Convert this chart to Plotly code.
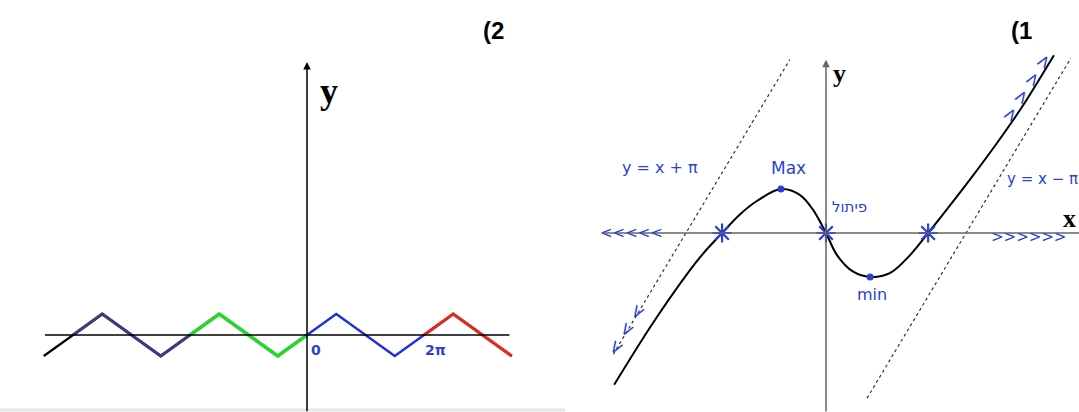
import plotly.graph_objects as go

W, H = 1079, 412

# ---- panel (2): triangle wave, x and y in multiples of pi ----
wave_x = [-4.5, -4, -3.5, -3, -2.5, -2, -1.5, -1, -0.5, 0, 0.5, 1, 1.5, 2, 2.5, 3, 3.5]
wave_y = [-0.5, 0, 0.5, 0, -0.5, 0, 0.5, 0, -0.5, 0, 0.5, 0, -0.5, 0, 0.5, 0, -0.5]
section_start = [-4, -2, 0, 2]
section_end = [-2, 0, 2, 3.5]
section_color = ["#3d3b80", "#2bd42b", "#1f2fe0", "#e0281e"]
section_width = [3.2, 3.6, 2.4, 3.2]

# ---- panel (1): sketched curve with slant asymptotes ----
curve_x = [-4.75, -3.88, -3.05, -2.76, -2.33, -1.93, -1.55, -1.01, -0.58, -0.29, 0.0,
           0.25, 0.61, 0.99, 1.43, 1.88, 2.29, 2.78, 3.23, 3.81, 4.39, 5.11]
curve_y = [-2.04, -1.21, -0.50, -0.28, 0.0, 0.25, 0.43, 0.59, 0.51, 0.31, 0.0,
           -0.30, -0.52, -0.59, -0.54, -0.30, 0.0, 0.37, 0.72, 1.19, 1.69, 2.39]
asym_plus_x = [-4.77, -0.81]
asym_plus_y = [-1.63, 2.33]
asym_minus_x = [0.92, 5.49]
asym_minus_y = [-2.22, 2.35]
zeros_x = [-2.33, 0.0, 2.29]
max_pt = (-1.01, 0.59)
min_pt = (0.99, -0.59)

INK = "#2b3fd6"
HAND = "DejaVu Sans"

fig = go.Figure()

# --- left panel traces (x, y) ---
for keep in (lambda x: x <= 0, lambda x: x >= 2):
    fig.add_trace(go.Scatter(x=[x for x in wave_x if keep(x)],
                             y=[y for x, y in zip(wave_x, wave_y) if keep(x)],
                             mode="lines", line=dict(color="black", width=2.2),
                             xaxis="x", yaxis="y", hoverinfo="skip"))
for s, e, c, w in zip(section_start, section_end, section_color, section_width):
    xs = [x for x in wave_x if s <= x <= e]
    ys = [y for x, y in zip(wave_x, wave_y) if s <= x <= e]
    fig.add_trace(go.Scatter(x=xs, y=ys, mode="lines", line=dict(color=c, width=w),
                             xaxis="x", yaxis="y", hoverinfo="skip"))

# --- right panel traces (x2, y2) ---
for ax_x, ax_y in ((asym_plus_x, asym_plus_y), (asym_minus_x, asym_minus_y)):
    fig.add_trace(go.Scatter(x=ax_x, y=ax_y, mode="lines",
                             line=dict(color="#333", width=1.2, dash="dot"),
                             xaxis="x2", yaxis="y2", hoverinfo="skip"))
fig.add_trace(go.Scatter(x=curve_x, y=curve_y, mode="lines",
                         line=dict(color="black", width=2, shape="spline", smoothing=1.0),
                         xaxis="x2", yaxis="y2", hoverinfo="skip"))
fig.add_trace(go.Scatter(x=zeros_x, y=[0] * len(zeros_x), mode="markers",
                         marker=dict(symbol="asterisk-open", size=16, color=INK,
                                     line=dict(color=INK, width=2.2)),
                         xaxis="x2", yaxis="y2", hoverinfo="skip"))
fig.add_trace(go.Scatter(x=[max_pt[0], min_pt[0]], y=[max_pt[1], min_pt[1]], mode="markers",
                         marker=dict(size=7, color=INK),
                         xaxis="x2", yaxis="y2", hoverinfo="skip"))

# --- axes drawn as arrows / lines ---
fig.add_shape(type="line", xref="x", yref="y", x0=-4.48, x1=3.46, y0=0, y1=0,
              line=dict(color="black", width=1.5))
fig.add_annotation(xref="x", yref="y", axref="x", ayref="y", x=0, y=6.5, ax=0, ay=-1.85,
                   showarrow=True, arrowhead=2, arrowsize=1, arrowwidth=1.5, arrowcolor="black", text="")
fig.add_shape(type="line", xref="x2", yref="y2", x0=-4.96, x1=5.75, y0=0, y1=0,
              line=dict(color="#666", width=1.5))
fig.add_annotation(xref="x2", yref="y2", axref="x2", ayref="y2", x=0, y=2.33, ax=0, ay=-2.42,
                   showarrow=True, arrowhead=2, arrowsize=1, arrowwidth=1.5, arrowcolor="#666", text="")


def label(text, x, y, xref, yref, size, color, family, bold=False, angle=0):
    fig.add_annotation(x=x, y=y, xref=xref, yref=yref, text=f"<b>{text}</b>" if bold else text,
                       showarrow=False, textangle=angle, xanchor="center", yanchor="middle",
                       font=dict(size=size, color=color, family=family))


label("(2", 493 / W, 1 - 31 / H, "paper", "paper", 24, "black", "Liberation Sans", bold=True)
label("(1", 1021 / W, 1 - 31 / H, "paper", "paper", 24, "black", "Liberation Sans", bold=True)
label("y", 0.38, 5.8, "x", "y", 36, "black", "Liberation Serif", bold=True)
label("0", 0.15, -0.35, "x", "y", 14, INK, "DejaVu Sans", bold=True)
label("2π", 2.2, -0.35, "x", "y", 14, INK, "DejaVu Sans", bold=True)

label("y", 0.3, 2.15, "x2", "y2", 26, "black", "Liberation Serif", bold=True)
label("x", 5.45, 0.2, "x2", "y2", 26, "black", "Liberation Serif", bold=True)
label("y = x + π", -3.72, 0.88, "x2", "y2", 16, INK, HAND)
label("Max", -0.85, 0.88, "x2", "y2", 17, INK, HAND)
label("פיתול", 0.52, 0.35, "x2", "y2", 15, INK, HAND)
label("min", 1.03, -0.83, "x2", "y2", 16, INK, HAND)
label("y = x − π", 4.85, 0.72, "x2", "y2", 15, INK, HAND)
label("<<<<<", -4.35, 0.0, "x2", "y2", 15, INK, HAND)
label(">>>>>>", 4.55, -0.05, "x2", "y2", 15, INK, HAND)
label("< < <", -4.48, -1.3, "x2", "y2", 18, INK, HAND, angle=-59)
label("> > > >", 4.5, 1.95, "x2", "y2", 18, INK, HAND, angle=-58)

# faint strip along the bottom of the left picture
fig.add_shape(type="line", xref="paper", yref="paper", x0=0, x1=565 / W, y0=2 / H, y1=2 / H,
              line=dict(color="#e6e6e6", width=3))

# pixel-calibrated axis ranges
hidden = dict(visible=False, showgrid=False, zeroline=False, fixedrange=True)
fig.update_layout(
    width=W, height=H,
    margin=dict(l=0, r=0, t=0, b=0),
    paper_bgcolor="white", plot_bgcolor="white",
    showlegend=False,
    xaxis=dict(domain=[0, 560 / W], range=[(0 - 307) / 58.5, (560 - 307) / 58.5], **hidden),
    yaxis=dict(domain=[0, 1], range=[(335 - 412) / 42, (335 - 0) / 42], **hidden),
    xaxis2=dict(domain=[570 / W, 1], range=[(570 - 826) / 44.6, (1079 - 826) / 44.6],
                anchor="y2", **hidden),
    yaxis2=dict(domain=[0, 1], range=[(233 - 412) / 74.4, (233 - 0) / 74.4], anchor="x2", **hidden),
)

fig.write_html("out.html", config={"displayModeBar": False},
               post_script="document.body.style.margin='0px';")
